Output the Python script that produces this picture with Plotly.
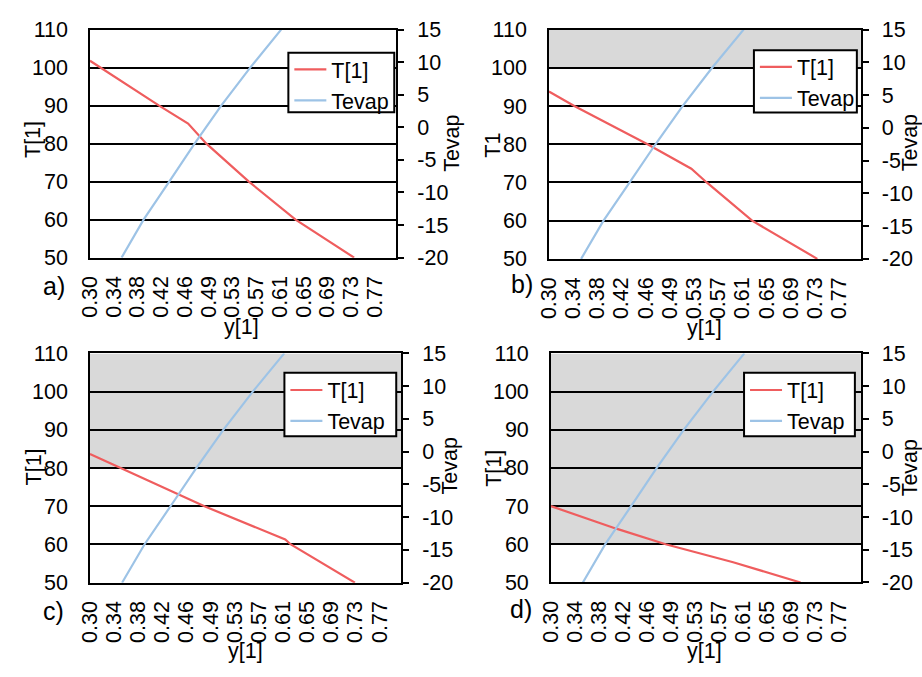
import plotly.graph_objects as go

# ---------------- data ----------------
panel_names = ["a)", "b)", "c)", "d)"]
left_titles = ["T[1]", "T1", "T[1]", "T[1]"]

# Tevap vs y[1] (identical in all four panels, secondary axis)
tevap_y1 = [0.3521, 0.3884, 0.4307, 0.4725, 0.5164, 0.5642, 0.6152]
tevap_val = [-20, -14.17, -8.33, -2.5, 3.33, 9.17, 15]

# T[1] vs y[1] for each panel (primary axis)
t1_a_y1 = [0.300, 0.4140, 0.4618, 0.4920, 0.5620, 0.6390, 0.7356]
t1_a_val = [101.8, 90.0, 85.3, 80.0, 70.0, 60.0, 50.0]
t1_b_y1 = [0.300, 0.3411, 0.4597, 0.5306, 0.5555, 0.6290, 0.7346]
t1_b_val = [93.8, 90.0, 80.0, 73.6, 70.0, 60.0, 50.0]
t1_c_y1 = [0.300, 0.3496, 0.4858, 0.6169, 0.6260, 0.7300]
t1_c_val = [83.7, 80.0, 70.0, 61.3, 60.0, 50.0]
t1_d_y1 = [0.300, 0.4066, 0.4870, 0.5970, 0.7068]
t1_d_val = [70.0, 64.1, 60.0, 55.3, 50.0]

t1_y1 = [t1_a_y1, t1_b_y1, t1_c_y1, t1_d_y1]
t1_val = [t1_a_val, t1_b_val, t1_c_val, t1_d_val]

# lower bound of the grey band (upper bound is the top of the axis)
shade_from = [None, 100, 80, 60]

x_tick_labels = ["0.30", "0.34", "0.38", "0.42", "0.46", "0.49", "0.53",
                 "0.57", "0.61", "0.65", "0.69", "0.73", "0.77"]
right_tick_vals = [-20, -15, -10, -5, 0, 5, 10, 15]
right_tick_labels = ["-20", "-15", "-10", "-5", "0", "5", "10", "15"]

# ---------------- styling / layout ----------------
W, H = 922, 677
RED = "#EF5D5E"
BLUE = "#9DC3E6"
GREY = "#D9D9D9"
FONT = "Liberation Sans, Arial, sans-serif"
FS = 21.5

x_min, x_max = 0.30, 0.805
first_lbl, last_lbl = 0.30, 0.77
n_lbl = len(x_tick_labels)
tickvals = [first_lbl + k * (last_lbl - first_lbl) / (n_lbl - 1) for k in range(n_lbl)]

# plot boxes in pixels: (left, right, top, bottom)
boxes = [(79, 389.3, 19.3, 255.7),
         (544, 860, 19.3, 257),
         (79, 394.3, 355, 592.7),
         (546, 860, 355, 592.5)]
# legend frames in pixels: (left, right, top, bottom) and first-entry centre y
legend_boxes = [(280, 387.3, 43.3, 105),
                (751.7, 856, 40.7, 105.3),
                (276, 389.3, 375, 441),
                (741.7, 854, 375, 441)]
legend_first_y = [59.3, 56.7, 391.7, 391.7]
left_title_pos = [(22, 133), (487, 139), (22.5, 473), (489, 474)]
right_title_pos = [(445, 137.5), (910, 137), (444, 472), (910, 474)]
xtitle_pos = [(233, 328), (702, 329), (237, 664), (702, 664)]
label_pos = [(42.5, 285), (517, 283), (42.5, 622), (516, 620)]


def px(x):
    return x / W


def py(y):
    return 1 - y / H


fig = go.Figure()
layout = dict(width=W, height=H, autosize=False,
              margin=dict(l=0, r=0, t=0, b=0),
              paper_bgcolor="white", plot_bgcolor="white",
              font=dict(family=FONT, size=FS, color="black"),
              showlegend=True)
shapes = []
annotations = []

for i in range(4):
    n = i + 1
    xa = "x" if n == 1 else f"x{n}"
    ly = 2 * i + 1
    ry = 2 * i + 2
    lya = "y" if ly == 1 else f"y{ly}"
    rya = f"y{ry}"
    leg = "legend" if n == 1 else f"legend{n}"
    l, r, t, b = boxes[i]

    fig.add_trace(go.Scatter(x=t1_y1[i], y=t1_val[i], mode="lines", name="T[1]",
                             line=dict(color=RED, width=2.2),
                             xaxis=xa, yaxis=lya, legend=leg))
    fig.add_trace(go.Scatter(x=tevap_y1, y=tevap_val, mode="lines", name="Tevap",
                             line=dict(color=BLUE, width=2.2),
                             xaxis=xa, yaxis=rya, legend=leg))

    xkey = "xaxis" if n == 1 else f"xaxis{n}"
    lkey = "yaxis" if ly == 1 else f"yaxis{ly}"
    rkey = f"yaxis{ry}"
    layout[xkey] = dict(domain=[px(l), px(r)], anchor=lya, range=[x_min, x_max],
                        tickmode="array", tickvals=tickvals, ticktext=x_tick_labels,
                        tickangle=-90, ticks="", ticklabelstandoff=8,
                        showline=True, mirror=True, linecolor="black", linewidth=1.5,
                        showgrid=False, zeroline=False,
                        tickfont=dict(family=FONT, size=FS, color="black"))
    layout[lkey] = dict(domain=[py(b), py(t)], anchor=xa, range=[50, 110],
                        tickmode="linear", tick0=50, dtick=10, ticks="",
                        ticklabelstandoff=16,
                        showgrid=True, gridcolor="black", gridwidth=1.5,
                        showline=True, mirror=True, linecolor="black", linewidth=1.5,
                        zeroline=False,
                        tickfont=dict(family=FONT, size=FS, color="black"))
    layout[rkey] = dict(overlaying=lya, side="right", anchor=xa, range=[-20, 15],
                        tickmode="array", tickvals=right_tick_vals,
                        ticktext=right_tick_labels,
                        ticks="outside", ticklen=6, tickwidth=1.5, tickcolor="black",
                        ticklabelstandoff=9,
                        showgrid=False, zeroline=False,
                        showline=True, linecolor="black", linewidth=1.5,
                        tickfont=dict(family=FONT, size=FS, color="black"))

    bl, br, bt, bb = legend_boxes[i]
    layout[leg] = dict(x=px(bl + 1), y=py(legend_first_y[i] - 20),
                       xanchor="left", yanchor="top",
                       bgcolor="rgba(0,0,0,0)", borderwidth=0,
                       itemwidth=32,
                       font=dict(family=FONT, size=FS, color="black"),
                       tracegroupgap=0)
    shapes.append(dict(type="rect", xref="paper", yref="paper",
                       x0=px(bl), x1=px(br), y0=py(bb), y1=py(bt),
                       fillcolor="white", line=dict(color="black", width=2),
                       layer="above"))

    if shade_from[i] is not None:
        shapes.append(dict(type="rect", xref=f"{xa} domain", yref=lya,
                           x0=0, x1=1, y0=shade_from[i], y1=110,
                           fillcolor=GREY, line=dict(width=0), layer="below"))

    annotations.append(dict(text=left_titles[i], xref="paper", yref="paper",
                            x=px(left_title_pos[i][0]), y=py(left_title_pos[i][1]),
                            textangle=-90, showarrow=False,
                            xanchor="center", yanchor="middle",
                            font=dict(family=FONT, size=FS, color="black")))
    annotations.append(dict(text="Tevap", xref="paper", yref="paper",
                            x=px(right_title_pos[i][0]), y=py(right_title_pos[i][1]),
                            textangle=-90, showarrow=False,
                            xanchor="center", yanchor="middle",
                            font=dict(family=FONT, size=FS, color="black")))
    annotations.append(dict(text="y[1]", xref="paper", yref="paper",
                            x=px(xtitle_pos[i][0]), y=py(xtitle_pos[i][1]),
                            showarrow=False, xanchor="center", yanchor="middle",
                            font=dict(family=FONT, size=FS, color="black")))
    annotations.append(dict(text=panel_names[i], xref="paper", yref="paper",
                            x=px(label_pos[i][0]), y=py(label_pos[i][1]),
                            showarrow=False, xanchor="center", yanchor="middle",
                            font=dict(family=FONT, size=25, color="black")))

layout["shapes"] = shapes
layout["annotations"] = annotations
fig.update_layout(**layout)
fig.write_html("out.html")
